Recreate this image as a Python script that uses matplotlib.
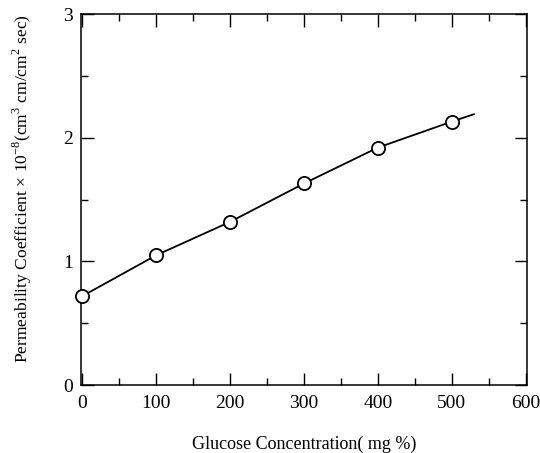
import numpy as np
import matplotlib
matplotlib.use('Agg')
import matplotlib.pyplot as plt
from matplotlib.ticker import MultipleLocator

plt.rcParams['font.family'] = ['Liberation Serif', 'DejaVu Serif']
plt.rcParams['mathtext.fontset'] = 'custom'
plt.rcParams['mathtext.rm'] = 'Liberation Serif'

# measured points (glucose mg %, permeability x 1e-8)
glucose = [0, 100, 200, 300, 400, 500]
permeability = [0.72, 1.05, 1.32, 1.63, 1.92, 2.13]
# the drawn curve runs a little past the last point
curve_x = glucose + [530]
curve_y = permeability + [2.19]

fig = plt.figure(figsize=(5.4, 4.53), dpi=100)
ax = fig.add_axes([0.150, 0.150, 0.826, 0.819])

ax.plot(curve_x, curve_y, color='black', lw=1.3, zorder=2)
ax.plot(glucose, permeability, 'o', ms=9.5, mfc='white', mec='black', mew=1.3, zorder=3, clip_on=False)

ax.set_xlim(-2, 602)
ax.set_ylim(0, 3)
ax.xaxis.set_major_locator(MultipleLocator(100))
ax.xaxis.set_minor_locator(MultipleLocator(50))
ax.yaxis.set_major_locator(MultipleLocator(1))
ax.yaxis.set_minor_locator(MultipleLocator(0.5))
ax.tick_params(which='both', direction='in', top=True, right=True, width=1.0, labelsize=14)
ax.tick_params(which='major', length=9)
ax.tick_params(which='minor', length=5)
ax.tick_params(axis='x', pad=7)
ax.tick_params(axis='y', pad=6)
for s in ax.spines.values():
    s.set_linewidth(1.1)

ax.set_xlabel('Glucose Concentration( mg %)', fontsize=13, labelpad=17)
ax.set_ylabel(r'Permeability Coefficient $\times$ 10$^{-8}$(cm$^3$ cm/cm$^2$ sec)', fontsize=12.6)
ax.yaxis.set_label_coords(-0.106, 0.53)

fig.savefig('out.png', dpi=100)
